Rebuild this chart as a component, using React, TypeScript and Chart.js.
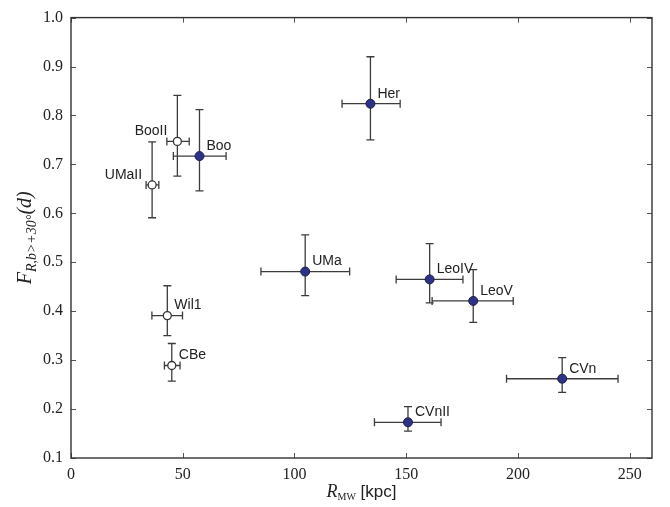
import { useEffect, useRef } from "react";
import { Chart, registerables } from "chart.js";

Chart.register(...registerables);

const names = ["Her", "Boo", "BooII", "UMaII", "UMa", "LeoIV", "LeoV", "Wil1", "CBe", "CVnII", "CVn"];
const rMW = [134, 57.5, 47.6, 36.3, 104.8, 160.5, 180, 43.1, 45.1, 150.8, 219.8];
const rLow = [121.3, 45.8, 42.9, 33.6, 85, 145.5, 161.6, 36.2, 41.8, 135.8, 194.9];
const rHigh = [147.3, 69.4, 52.9, 39.3, 124.7, 175.4, 197.9, 49.9, 48.8, 165.6, 244.8];
const fR = [0.824, 0.717, 0.747, 0.658, 0.481, 0.465, 0.421, 0.391, 0.289, 0.173, 0.262];
const fLow = [0.75, 0.646, 0.676, 0.591, 0.432, 0.417, 0.377, 0.35, 0.257, 0.155, 0.234];
const fHigh = [0.92, 0.812, 0.841, 0.746, 0.556, 0.538, 0.485, 0.452, 0.334, 0.205, 0.305];
const openMarker = [false, false, true, true, false, false, false, true, true, false, false];
const labelLeft = [false, false, true, true, false, false, false, false, false, false, false];

const xTicks = [0, 50, 100, 150, 200, 250];
const yTicks = [0.1, 0.2, 0.3, 0.4, 0.5, 0.6, 0.7, 0.8, 0.9, 1.0];

const SERIF = "'Liberation Serif', 'DejaVu Serif', serif";
const SANS = "'Liberation Sans', Arial, sans-serif";

type Part = { text: string; font: string; dy: number };

function drawRich(ctx: CanvasRenderingContext2D, parts: Part[], cx: number, cy: number, rot: number) {
  ctx.save();
  ctx.translate(cx, cy);
  ctx.rotate(rot);
  ctx.textBaseline = "alphabetic";
  ctx.textAlign = "left";
  let w = 0;
  for (const p of parts) {
    ctx.font = p.font;
    w += ctx.measureText(p.text).width;
  }
  let x = -w / 2;
  for (const p of parts) {
    ctx.font = p.font;
    ctx.fillText(p.text, x, p.dy);
    x += ctx.measureText(p.text).width;
  }
  ctx.restore();
}

const decorPlugin = {
  id: "decor",
  beforeDatasetsDraw(chart: any) {
    const ctx = chart.ctx as CanvasRenderingContext2D;
    const xs = chart.scales.x;
    const ys = chart.scales.y;
    const cap = 4;
    ctx.save();
    ctx.strokeStyle = "#3c3c3c";
    ctx.lineWidth = 1.3;
    for (let i = 0; i < names.length; i++) {
      const px = xs.getPixelForValue(rMW[i]);
      const py = ys.getPixelForValue(fR[i]);
      const x1 = xs.getPixelForValue(rLow[i]);
      const x2 = xs.getPixelForValue(rHigh[i]);
      const y1 = ys.getPixelForValue(fLow[i]);
      const y2 = ys.getPixelForValue(fHigh[i]);
      ctx.beginPath();
      ctx.moveTo(x1, py);
      ctx.lineTo(x2, py);
      ctx.moveTo(x1, py - cap);
      ctx.lineTo(x1, py + cap);
      ctx.moveTo(x2, py - cap);
      ctx.lineTo(x2, py + cap);
      ctx.moveTo(px, y1);
      ctx.lineTo(px, y2);
      ctx.moveTo(px - cap, y1);
      ctx.lineTo(px + cap, y1);
      ctx.moveTo(px - cap, y2);
      ctx.lineTo(px + cap, y2);
      ctx.stroke();
    }
    ctx.restore();
  },
  afterDatasetsDraw(chart: any) {
    const ctx = chart.ctx as CanvasRenderingContext2D;
    const xs = chart.scales.x;
    const ys = chart.scales.y;
    ctx.save();
    ctx.font = `14px ${SANS}`;
    ctx.fillStyle = "#222";
    ctx.textBaseline = "middle";
    for (let i = 0; i < names.length; i++) {
      const px = xs.getPixelForValue(rMW[i]);
      const py = ys.getPixelForValue(fR[i]);
      if (labelLeft[i]) {
        ctx.textAlign = "right";
        ctx.fillText(names[i], px - 10, py - 10);
      } else {
        ctx.textAlign = "left";
        ctx.fillText(names[i], px + 7, py - 10);
      }
    }
    ctx.restore();
  },
  afterDraw(chart: any) {
    const ctx = chart.ctx as CanvasRenderingContext2D;
    const a = chart.chartArea;
    const xs = chart.scales.x;
    const ys = chart.scales.y;
    ctx.save();
    ctx.strokeStyle = "#555";
    ctx.lineWidth = 1;
    const tl = 5;
    ctx.beginPath();
    for (const v of xTicks) {
      const p = Math.round(xs.getPixelForValue(v)) + 0.5;
      ctx.moveTo(p, a.bottom);
      ctx.lineTo(p, a.bottom - tl);
      ctx.moveTo(p, a.top);
      ctx.lineTo(p, a.top + tl);
    }
    for (const v of yTicks) {
      const p = Math.round(ys.getPixelForValue(v)) + 0.5;
      ctx.moveTo(a.left, p);
      ctx.lineTo(a.left + tl, p);
      ctx.moveTo(a.right, p);
      ctx.lineTo(a.right - tl, p);
    }
    ctx.stroke();
    ctx.strokeStyle = "#333";
    ctx.lineWidth = 1.4;
    ctx.strokeRect(a.left, a.top, a.right - a.left, a.bottom - a.top);

    ctx.fillStyle = "#222";
    const cx = (a.left + a.right) / 2;
    drawRich(
      ctx,
      [
        { text: "R", font: `italic 18px ${SERIF}`, dy: 0 },
        { text: "MW", font: `10px ${SERIF}`, dy: 3 },
        { text: " [kpc]", font: `17px ${SANS}`, dy: 0 },
      ],
      cx,
      497,
      0
    );
    const cy = (a.top + a.bottom) / 2;
    drawRich(
      ctx,
      [
        { text: "F", font: `italic 20px ${SERIF}`, dy: 0 },
        { text: "R,b>+30°", font: `italic 14px ${SERIF}`, dy: 5 },
        { text: "(d)", font: `italic 20px ${SERIF}`, dy: 0 },
      ],
      31,
      cy,
      -Math.PI / 2
    );
    ctx.restore();
  },
};

export default function App() {
  const ref = useRef<HTMLCanvasElement>(null);
  useEffect(() => {
    document.body.style.margin = "0";
    const canvas = ref.current;
    if (!canvas) return;
    const idxFilled = names.map((_, i) => i).filter((i) => !openMarker[i]);
    const idxOpen = names.map((_, i) => i).filter((i) => openMarker[i]);
    const chart = new Chart(canvas, {
      type: "scatter",
      data: {
        datasets: [
          {
            label: "filled",
            data: idxFilled.map((i) => ({ x: rMW[i], y: fR[i] })),
            backgroundColor: "#2b3287",
            borderColor: "#1e1e44",
            borderWidth: 1,
            pointRadius: 4.5,
          },
          {
            label: "open",
            data: idxOpen.map((i) => ({ x: rMW[i], y: fR[i] })),
            backgroundColor: "#ffffff",
            borderColor: "#333",
            borderWidth: 1.3,
            pointRadius: 4,
          },
        ],
      },
      options: {
        animation: false,
        responsive: true,
        maintainAspectRatio: false,
        layout: { padding: { top: 11, right: 18, left: 0, bottom: 0 } },
        plugins: { legend: { display: false }, tooltip: { enabled: false } },
        scales: {
          x: {
            type: "linear",
            min: 0,
            max: 260,
            grid: { display: false, drawTicks: false },
            border: { display: false },
            afterBuildTicks: (s: any) => {
              s.ticks = xTicks.map((v) => ({ value: v }));
            },
            afterFit: (s: any) => {
              s.height = 49;
            },
            ticks: {
              padding: 7,
              color: "#222",
              font: { family: SERIF, size: 16 },
              maxRotation: 0,
              callback: (v: any) => String(v),
            },
          },
          y: {
            type: "linear",
            min: 0.1,
            max: 1.0,
            grid: { display: false, drawTicks: false },
            border: { display: false },
            afterBuildTicks: (s: any) => {
              s.ticks = yTicks.map((v) => ({ value: v }));
            },
            afterFit: (s: any) => {
              s.width = 71;
            },
            ticks: {
              padding: 8,
              color: "#222",
              font: { family: SERIF, size: 16 },
              callback: (v: any) => Number(v).toFixed(1),
            },
          },
        },
      },
      plugins: [decorPlugin],
    });
    return () => chart.destroy();
  }, []);
  return (
    <div style={{ position: "relative", width: 670, height: 507 }}>
      <canvas ref={ref} />
    </div>
  );
}
